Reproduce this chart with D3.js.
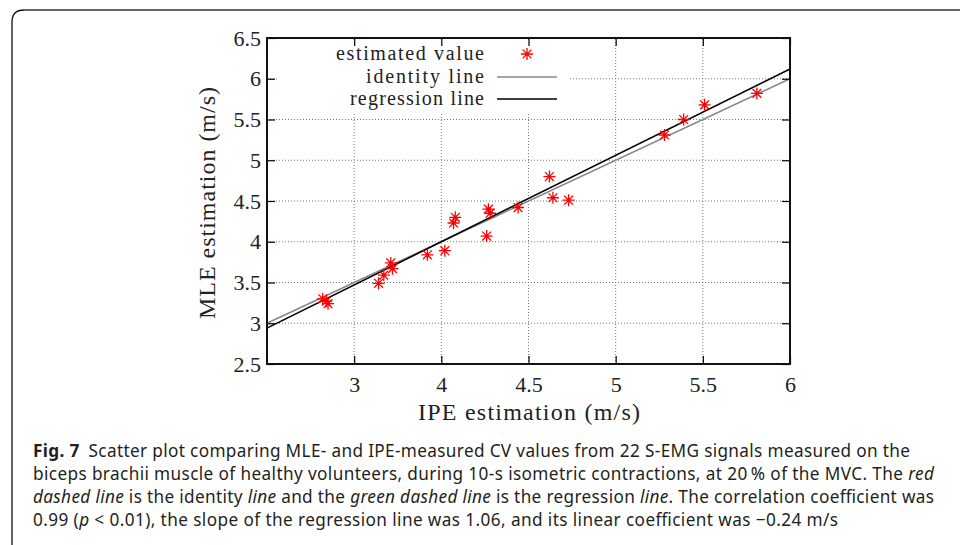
<!DOCTYPE html>
<html><head><meta charset="utf-8">
<script src="https://cdn.jsdelivr.net/npm/d3@7"></script>
<style>
body{margin:0;background:#fff;}
svg{display:block;}
</style></head>
<body>
<svg id="chart" width="960" height="545"></svg>
<script>
// ---- data ----
const ipe = [3.32, 3.34, 3.35, 3.64, 3.67, 3.71, 3.72, 3.92, 4.02, 4.07, 4.08, 4.26, 4.27, 4.28, 4.44, 4.62, 4.64, 4.73, 5.28, 5.39, 5.51, 5.81];
const mle = [3.30, 3.27, 3.24, 3.49, 3.59, 3.74, 3.67, 3.84, 3.89, 4.23, 4.30, 4.07, 4.40, 4.35, 4.42, 4.80, 4.54, 4.51, 5.31, 5.50, 5.68, 5.82];
const xTicks = [3.5, 4, 4.5, 5, 5.5, 6];
const xTickLabels = ["3", "4", "4.5", "5", "5.5", "6"];
const yTicks = [2.5, 3, 3.5, 4, 4.5, 5, 5.5, 6, 6.5];
const yTickLabels = ["2.5", "3", "3.5", "4", "4.5", "5", "5.5", "6", "6.5"];
const regSlope = 1.06, regIntercept = -0.24;
const legendLabels = ["estimated value", "identity line", "regression line"];
const captionLines = [
  [{t:"Fig. 7", b:true}, {t:"\u2002Scatter plot comparing MLE- and IPE-measured CV values from 22 S-EMG signals measured on the"}],
  [{t:"biceps brachii muscle of healthy volunteers, during 10-s isometric contractions, at 20\u2009% of the MVC. The "}, {t:"red", i:true}],
  [{t:"dashed line", i:true}, {t:" is the identity "}, {t:"line", i:true}, {t:" and the "}, {t:"green dashed line", i:true}, {t:" is the regression "}, {t:"line", i:true}, {t:". The correlation coefficient was"}],
  [{t:"0.99 ("}, {t:"p", i:true}, {t:" < 0.01), the slope of the regression line was 1.06, and its linear coefficient was \u22120.24 m/s"}]
];

const svg = d3.select("#chart");
const L = 267, R = 790, T = 38, B = 364;
const x = d3.scaleLinear().domain([3, 6]).range([L, R]);
const y = d3.scaleLinear().domain([2.5, 6.5]).range([B, T]);
const serif = "'Liberation Serif','Times New Roman',serif";
const sans = "'Noto Sans','Open Sans',sans-serif";

// outer figure frame
svg.append("path").attr("d", "M12,545 V22 Q12,10 24,10").attr("fill","none").attr("stroke","#111").attr("stroke-width",1.3);
svg.append("path").attr("d", "M24,10 H960").attr("fill","none").attr("stroke","#666").attr("stroke-width",2);

// grid
const grid = svg.append("g");
grid.selectAll("line.gx").data(xTicks.filter(d => d < 6)).join("line")
  .attr("x1", d => x(d)).attr("x2", d => x(d)).attr("y1", B).attr("y2", T)
  .attr("stroke", "#777").attr("stroke-width", 1).attr("stroke-dasharray", "1,2");
grid.selectAll("line.gy").data(yTicks.filter(d => d > 2.5 && d < 6.5)).join("line")
  .attr("y1", d => y(d)).attr("y2", d => y(d)).attr("x1", L).attr("x2", R)
  .attr("stroke", "#777").attr("stroke-width", 1).attr("stroke-dasharray", "1,2");

// legend background (hides grid)
svg.append("rect").attr("x", 279).attr("y", 40).attr("width", 290).attr("height", 72).attr("fill", "#fff");

// lines
const xd = x.domain();
svg.append("line").attr("x1", x(xd[0])).attr("y1", y(xd[0])).attr("x2", x(xd[1])).attr("y2", y(xd[1]))
  .attr("stroke", "#888").attr("stroke-width", 1.6);
svg.append("line").attr("x1", x(xd[0])).attr("y1", y(regSlope*xd[0]+regIntercept)).attr("x2", x(xd[1])).attr("y2", y(regSlope*xd[1]+regIntercept))
  .attr("stroke", "#000").attr("stroke-width", 1.6);

// asterisk marker
function star(g, cx, cy) {
  const s = 6, d = 4.4;
  const p = `M${cx-s},${cy}H${cx+s}M${cx},${cy-s}V${cy+s}M${cx-d},${cy-d}L${cx+d},${cy+d}M${cx-d},${cy+d}L${cx+d},${cy-d}`;
  g.append("path").attr("d", p).attr("stroke", "#ff0000").attr("stroke-width", 1.3).attr("fill", "none");
}
const pts = svg.append("g");
ipe.forEach((v, i) => star(pts, x(v), y(mle[i])));

// axes with inward ticks
const tickFont = g => g.selectAll("text").attr("font-family", serif).attr("font-size", 22).attr("fill", "#222");
const xAxis = d3.axisBottom(x).tickValues(xTicks).tickFormat((d, i) => xTickLabels[i]).tickSizeInner(-8).tickSizeOuter(0).tickPadding(12);
const gx = svg.append("g").attr("transform", `translate(0,${B})`).call(xAxis);
gx.select(".domain").remove();
gx.selectAll("line").attr("stroke", "#000").attr("stroke-width", 1.2);
tickFont(gx);
const yAxis = d3.axisLeft(y).tickValues(yTicks).tickFormat((d, i) => yTickLabels[i]).tickSizeInner(-8).tickSizeOuter(0).tickPadding(6);
const gy = svg.append("g").attr("transform", `translate(${L},0)`).call(yAxis);
gy.select(".domain").remove();
gy.selectAll("line").attr("stroke", "#000").attr("stroke-width", 1.2);
tickFont(gy);
// mirrored ticks
const gxt = svg.append("g").attr("transform", `translate(0,${T})`).call(d3.axisTop(x).tickValues(xTicks).tickFormat("").tickSizeInner(-8).tickSizeOuter(0));
gxt.select(".domain").remove(); gxt.selectAll("line").attr("stroke", "#000").attr("stroke-width", 1.2);
const gyr = svg.append("g").attr("transform", `translate(${R},0)`).call(d3.axisRight(y).tickValues(yTicks).tickFormat("").tickSizeInner(-8).tickSizeOuter(0));
gyr.select(".domain").remove(); gyr.selectAll("line").attr("stroke", "#000").attr("stroke-width", 1.2);

// plot border
svg.append("rect").attr("x", L).attr("y", T).attr("width", R - L).attr("height", B - T)
  .attr("fill", "none").attr("stroke", "#111").attr("stroke-width", 2);

// axis titles
svg.append("text").attr("x", 529).attr("y", 420).attr("text-anchor", "middle")
  .attr("textLength", 222).attr("lengthAdjust", "spacing")
  .attr("font-family", serif).attr("font-size", 24).attr("fill", "#222").text("IPE estimation (m/s)");
svg.append("text").attr("transform", `translate(215,203) rotate(-90)`).attr("text-anchor", "middle")
  .attr("textLength", 232).attr("lengthAdjust", "spacing")
  .attr("font-family", serif).attr("font-size", 24).attr("fill", "#222").text("MLE estimation (m/s)");

// legend
const lg = svg.append("g");
const ly = [54, 77, 99];
const lw = [148, 118, 134];
legendLabels.forEach((t, i) => {
  lg.append("text").attr("x", 484).attr("y", ly[i] + 6).attr("text-anchor", "end")
    .attr("textLength", lw[i]).attr("lengthAdjust", "spacing")
    .attr("font-family", serif).attr("font-size", 20).attr("fill", "#222").text(t);
});
star(lg, 527, ly[0]);
lg.append("line").attr("x1", 497).attr("x2", 557).attr("y1", ly[1]).attr("y2", ly[1]).attr("stroke", "#888").attr("stroke-width", 1.6);
lg.append("line").attr("x1", 497).attr("x2", 557).attr("y1", ly[2]).attr("y2", ly[2]).attr("stroke", "#000").attr("stroke-width", 1.6);

// caption
const cy0 = 457, lh = 23;
const capW = [877, 901, 901, 805];
captionLines.forEach((line, i) => {
  const t = svg.append("text").attr("x", 33).attr("y", cy0 + i * lh)
    .attr("textLength", capW[i]).attr("lengthAdjust", "spacing")
    .attr("font-family", sans).attr("font-size", 17.2).attr("fill", "#231f20");
  line.forEach(s => {
    t.append("tspan").text(s.t)
      .attr("font-weight", s.b ? "bold" : null)
      .attr("font-style", s.i ? "italic" : null);
  });
});
</script>
</body></html>
